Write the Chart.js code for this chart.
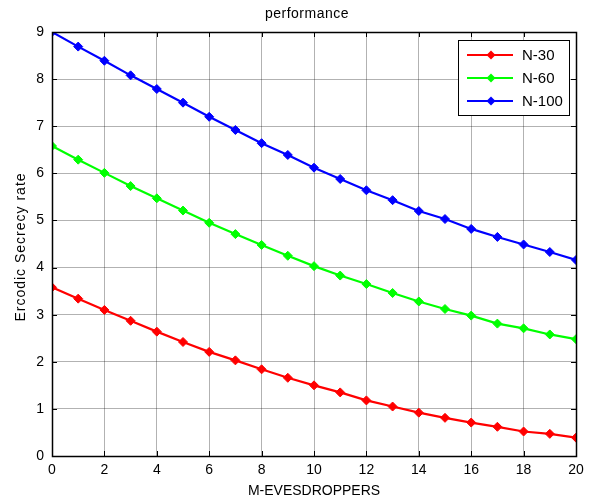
<!DOCTYPE html>
<html>
<head>
<meta charset="utf-8">
<script src="https://cdn.jsdelivr.net/npm/chart.js@4.4.1/dist/chart.umd.min.js"></script>
<style>
  html, body { margin: 0; padding: 0; background: #fff; }
  #wrap { width: 592px; height: 501px; }
</style>
</head>
<body>
<div id="wrap"><canvas id="c" width="592" height="501"></canvas></div>
<script>
const xValues = [0,1,2,3,4,5,6,7,8,9,10,11,12,13,14,15,16,17,18,19,20];
const n30 = [3.58,3.34,3.10,2.87,2.64,2.42,2.21,2.03,1.84,1.66,1.50,1.35,1.18,1.05,0.92,0.81,0.71,0.62,0.52,0.47,0.39];
const n60 = [6.58,6.29,6.01,5.73,5.47,5.21,4.95,4.71,4.48,4.25,4.03,3.83,3.65,3.46,3.28,3.12,2.98,2.81,2.71,2.58,2.48];
const n100 = [9.00,8.69,8.39,8.08,7.79,7.50,7.20,6.92,6.64,6.39,6.12,5.88,5.64,5.43,5.20,5.03,4.82,4.65,4.49,4.33,4.16];
const seriesLabels = ['N-30','N-60','N-100'];
const seriesColors = ['#ff0000','#00ff00','#0000ff'];
const titleText = 'performance';
const xTitle = 'M-EVESDROPPERS';
const yTitle = 'Ercodic Secrecy rate';

const FONT = 'Arial, "Liberation Sans", sans-serif';

function toPts(vals) { return xValues.map((x, i) => ({x: x, y: vals[i]})); }

const datasets = [n30, n60, n100].map((v, i) => ({
  label: seriesLabels[i],
  data: toPts(v),
  borderColor: seriesColors[i],
  backgroundColor: seriesColors[i],
  borderWidth: 2.2,
  pointStyle: 'rectRot',
  pointRadius: 4.5,
  pointBorderWidth: 1,
  pointBackgroundColor: seriesColors[i],
  pointBorderColor: seriesColors[i],
  tension: 0
}));

const boxPlugin = {
  id: 'box',
  afterDraw(chart) {
    const ctx = chart.ctx;
    const a = chart.chartArea;
    const xs = chart.scales.x, ys = chart.scales.y;
    ctx.save();
    ctx.strokeStyle = '#000';
    ctx.lineWidth = 1;
    // inward ticks
    ctx.beginPath();
    const tl = 5;
    xs.ticks.forEach(t => {
      const px = Math.round(xs.getPixelForValue(t.value)) + 0.5;
      ctx.moveTo(px, a.bottom); ctx.lineTo(px, a.bottom - tl);
      ctx.moveTo(px, a.top); ctx.lineTo(px, a.top + tl);
    });
    ys.ticks.forEach(t => {
      const py = Math.round(ys.getPixelForValue(t.value)) + 0.5;
      ctx.moveTo(a.left, py); ctx.lineTo(a.left + tl, py);
      ctx.moveTo(a.right, py); ctx.lineTo(a.right - tl, py);
    });
    ctx.stroke();
    ctx.lineWidth = 1.5;
    ctx.strokeRect(Math.round(a.left) + 0.5, Math.round(a.top) + 0.5,
                   Math.round(a.right - a.left), Math.round(a.bottom - a.top));

    // title
    ctx.fillStyle = '#000';
    ctx.textAlign = 'center';
    ctx.textBaseline = 'middle';
    ctx.font = '14px ' + FONT;
    ctx.letterSpacing = '0.5px';
    ctx.fillText(titleText, 307, 14);

    // y axis title
    ctx.save();
    ctx.translate(21, 247);
    ctx.rotate(-Math.PI / 2);
    ctx.letterSpacing = '1px';
    ctx.fillText(yTitle, 0, 0);
    ctx.restore();
    ctx.letterSpacing = '0px';

    // legend
    const lx = 458, ly = 40, lw = 111, lh = 75;
    ctx.fillStyle = '#fff';
    ctx.fillRect(lx, ly, lw, lh);
    ctx.lineWidth = 1;
    ctx.strokeStyle = '#000';
    ctx.strokeRect(lx + 0.5, ly + 0.5, lw, lh);
    ctx.font = '15px ' + FONT;
    ctx.textBaseline = 'middle';
    chart.data.datasets.forEach((ds, i) => {
      const cy = ly + 15 + i * 23;
      ctx.strokeStyle = ds.borderColor;
      ctx.lineWidth = 2;
      ctx.beginPath();
      ctx.moveTo(lx + 9, cy); ctx.lineTo(lx + 55, cy);
      ctx.stroke();
      ctx.fillStyle = ds.borderColor;
      ctx.beginPath();
      ctx.moveTo(lx + 33, cy - 4.5); ctx.lineTo(lx + 37.5, cy);
      ctx.lineTo(lx + 33, cy + 4.5); ctx.lineTo(lx + 28.5, cy);
      ctx.closePath(); ctx.fill();
      ctx.fillStyle = '#000';
      ctx.textAlign = 'left';
      ctx.fillText(ds.label, lx + 64, cy + 1);
    });
    ctx.restore();
  }
};

new Chart(document.getElementById('c'), {
  type: 'line',
  data: { datasets: datasets },
  options: {
    responsive: false,
    animation: false,
    devicePixelRatio: 1,
    layout: { padding: { left: 0, right: 16, top: 32, bottom: 0 } },
    plugins: {
      legend: { display: false },
      tooltip: { enabled: false },
      title: { display: false }
    },
    scales: {
      x: {
        type: 'linear', min: 0, max: 20,
        afterFit(s) { s.height = 45; },
        ticks: { stepSize: 2, color: '#000', padding: 6, maxRotation: 0,
                 font: { family: FONT, size: 14 } },
        grid: { color: 'rgba(0,0,0,0.3)', lineWidth: 1, drawTicks: false },
        border: { display: false },
        title: { display: true, text: xTitle, color: '#000',
                 font: { family: FONT, size: 14 }, padding: { top: 0, bottom: 1 } }
      },
      y: {
        type: 'linear', min: 0, max: 9,
        afterFit(s) { s.width = 52; },
        ticks: { stepSize: 1, color: '#000', padding: 8,
                 font: { family: FONT, size: 14 } },
        grid: { color: 'rgba(0,0,0,0.3)', lineWidth: 1, drawTicks: false },
        border: { display: false },
        title: { display: false }
      }
    }
  },
  plugins: [boxPlugin]
});
</script>
</body>
</html>
